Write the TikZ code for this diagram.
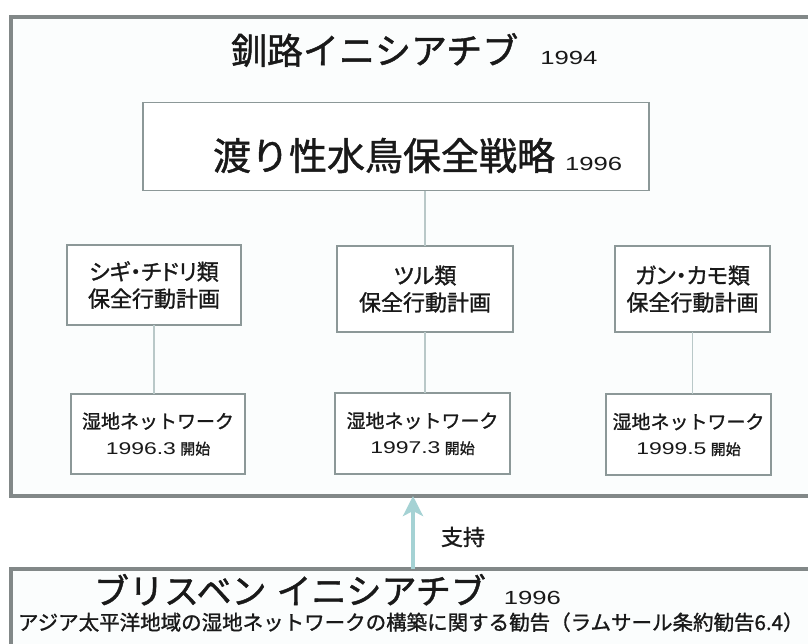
\documentclass[tikz,border=0pt]{standalone}
\usepackage{fontspec}
\newfontfamily\jp[FakeBold=1.2]{Noto Sans CJK JP}
\newfontfamily\jpp[FakeBold=1.2,RawFeature=+palt]{Noto Sans CJK JP}
\newfontfamily\lat[FakeStretch=1.35]{Liberation Sans}
\usetikzlibrary{arrows.meta}
\definecolor{boxc}{RGB}{140,152,152}
\definecolor{linec}{RGB}{185,200,200}
\definecolor{outc}{RGB}{130,136,136}
\definecolor{arrc}{RGB}{165,210,212}
\definecolor{txt}{RGB}{25,25,25}
\begin{document}
\begin{tikzpicture}[x=1pt,y=-1pt,
  every node/.style={outer sep=0pt,text=txt},
  bigbox/.style={draw=outc,line width=3.5pt,fill={rgb,255:red,251;green,253;blue,253},inner sep=0pt},
  box/.style={draw=boxc,line width=1.6pt,fill=white,inner sep=0pt,align=center},
  conn/.style={draw=linec,line width=1.2pt},
  lbl/.style={inner sep=0pt},
  actfont/.style={font=\jp\fontsize{22}{27}\selectfont},
  netfont/.style={font=\jp\fontsize{19}{26}\selectfont}]
\useasboundingbox (0,0) rectangle (808,643);
\clip (0,0) rectangle (808,643);
\fill[white] (0,0) rectangle (808,643);
% outer frame
\node[bigbox,minimum width=804pt,minimum height=479pt] (outer) at (413,256.5) {};
% bottom frame
\node[bigbox,minimum width=804pt,minimum height=91pt] (bottom) at (413,614.5) {};
% title
\node[lbl,anchor=base west] (title) at (231,64)
  {{\jp\fontsize{36}{40}\selectfont 釧路イニシアチブ}\hspace{22pt}{\lat\fontsize{19}{20}\selectfont 1994}};
% strategy box
\node[box,minimum width=506pt,minimum height=88pt] (strat) at (396,146.5) {};
\node[lbl,anchor=base west] (strattext) at (213,170)
  {{\jp\fontsize{38}{42}\selectfont 渡り性水鳥保全戦略}\hspace{10pt}{\lat\fontsize{19}{20}\selectfont 1996}};
% action plan boxes
\node[box,actfont,minimum width=174pt,minimum height=80pt] (a1) at (154,285)
  {{\jpp シギ・チドリ類}\\保全行動計画};
\node[box,actfont,minimum width=176pt,minimum height=86pt] (a2) at (425,289)
  {{\jpp ツル類}\\保全行動計画};
\node[box,actfont,minimum width=155pt,minimum height=86pt] (a3) at (692.5,289)
  {{\jpp ガン・カモ類}\\保全行動計画};
% network boxes
\node[box,netfont,minimum width=174pt,minimum height=80pt] (n1) at (158,434)
  {湿地ネットワーク\\{\lat\fontsize{17}{20}\selectfont 1996.3} {\fontsize{15}{20}\selectfont 開始}};
\node[box,netfont,minimum width=175pt,minimum height=81pt] (n2) at (422.5,433.5)
  {湿地ネットワーク\\{\lat\fontsize{17}{20}\selectfont 1997.3} {\fontsize{15}{20}\selectfont 開始}};
\node[box,netfont,minimum width=165pt,minimum height=81pt] (n3) at (688.5,434.5)
  {湿地ネットワーク\\{\lat\fontsize{17}{20}\selectfont 1999.5} {\fontsize{15}{20}\selectfont 開始}};
% connectors
\draw[conn] (a2.north |- strat.south) -- (a2.north);
\draw[conn] (a1.south) -- (a1.south |- n1.north);
\draw[conn] (a2.south) -- (a2.south |- n2.north);
\draw[conn] (a3.south) -- (a3.south |- n3.north);
% support arrow
\coordinate (arrx) at (413,530);
\draw[draw=arrc,line width=4pt,-{Stealth[length=20pt,width=20pt,inset=5pt]}]
  (arrx |- bottom.north) -- (arrx |- outer.south);
\node[lbl,font=\jp\fontsize{22}{24}\selectfont] (support) at (463,537) {支持};
% bottom texts
\node[lbl,anchor=base west] (btitle) at (94,604)
  {{\jp\fontsize{35}{40}\selectfont ブリスベン\hspace{10pt}イニシアチブ}\hspace{18pt}{\lat\fontsize{19}{20}\selectfont 1996}};
\node[lbl,anchor=base west,font=\jp\fontsize{20.5}{24}\selectfont] (bsub) at (18,630)
  {アジア太平洋地域の湿地ネットワークの構築に関する勧告（ラムサール条約勧告6.4）};
\end{tikzpicture}
\end{document}
